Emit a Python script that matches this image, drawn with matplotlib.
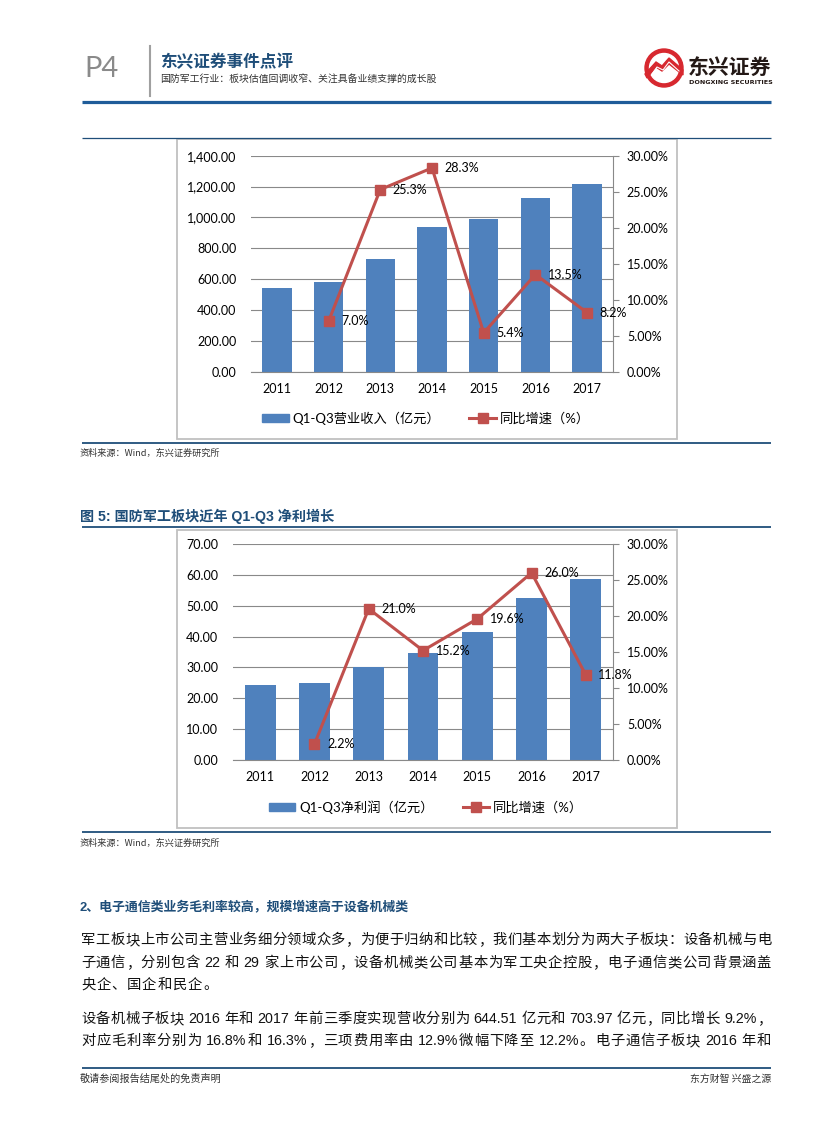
import re
import numpy as np
import matplotlib
matplotlib.use("Agg")
import matplotlib.pyplot as plt
from matplotlib.patches import Rectangle, Circle, Polygon, Patch
from matplotlib.lines import Line2D
from matplotlib.ticker import FuncFormatter, MultipleLocator
from matplotlib.font_manager import FontProperties

W, H = 827, 1122

# ---- data ----
years = ['2011', '2012', '2013', '2014', '2015', '2016', '2017']
revenue = [544, 583, 730, 938, 990, 1124, 1216]          # Q1-Q3营业收入（亿元）
revenue_yoy = [None, 7.0, 25.3, 28.3, 5.4, 13.5, 8.2]    # 同比增速（%）
profit = [24.3, 24.8, 30.1, 34.7, 41.5, 52.4, 58.6]      # Q1-Q3净利润（亿元）
profit_yoy = [None, 2.2, 21.0, 15.2, 19.6, 26.0, 11.8]   # 同比增速（%）

BLUE = '#4F81BD'
RED = '#C0504D'
NAVY = '#1F4E79'
GRID = '#898989'
CJK = ['Noto Sans CJK SC', 'DejaVu Sans']
NUM = ['Lato', 'Noto Sans CJK SC']
BODY = ['Liberation Sans', 'Noto Sans CJK SC']

fig = plt.figure(figsize=(W / 100, H / 100), dpi=100)
bg = fig.add_axes([0, 0, 1, 1])
bg.set_xlim(0, W)
bg.set_ylim(H, 0)
bg.axis('off')


def T(x, y, s, **kw):
    return fig.text(x / W, 1 - y / H, s, **kw)


def rect(x0, y0, x1, y1):
    return [x0 / W, 1 - y1 / H, (x1 - x0) / W, (y1 - y0) / H]


def hline(y, lw=1.0, color=NAVY, x0=82, x1=771):
    bg.plot([x0, x1], [y, y], color=color, lw=lw, solid_capstyle='butt')


# ---- page header ----
T(84, 69, 'P4', fontsize=21, color='#8a8a8a', family='Lato', va='center')
bg.plot([150, 150], [46, 96], color='#a0a0a0', lw=1.5)
T(160, 62, '东兴证券事件点评', fontsize=12, color=NAVY, family=CJK, fontweight='bold', va='center')
T(160, 79, '国防军工行业：板块估值回调收窄、关注具备业绩支撑的成长股', fontsize=7.1,
  color='#333333', family=CJK, va='center')

# logo
bg.add_patch(Circle((664, 68), 19, color='#d7282f'))
bg.add_patch(Circle((664, 68), 14.5, color='white'))
bg.add_patch(Polygon([(645, 74), (656, 62), (662, 66), (669, 58), (683, 70), (683, 75),
                      (669, 64), (662, 71), (656, 67), (647, 78)], closed=True, color='#d7282f'))
bg.plot([652, 657, 663, 669, 679], [74, 67, 70, 62, 71], color='white', lw=0.8)
T(688, 67, '东兴证券', fontsize=15, color='#231815', family=CJK, fontweight='bold', va='center')
T(689, 83, 'DONGXING SECURITIES', fontsize=4.6, color='#231815', family='DejaVu Sans',
  fontweight='bold', va='center')

hline(101.5, lw=2.3, color='#1F5C99')
hline(138, lw=0.9)


def draw_chart(box, plot, bars, yoy, ymax, ystep, fmt, bar_name, leg_y):
    bg.add_patch(Rectangle((box[0], box[1]), box[2] - box[0], box[3] - box[1],
                           fill=False, ec='#c0c0c0', lw=1.3))
    ax = fig.add_axes(rect(*plot))
    x = np.arange(len(years))
    ax.bar(x, bars, width=0.57, color=BLUE, zorder=3)
    ax.set_xlim(-0.5, len(years) - 0.5)
    ax.set_ylim(0, ymax)
    ax.yaxis.set_major_locator(MultipleLocator(ystep))
    ax.yaxis.set_major_formatter(FuncFormatter(fmt))
    ax.grid(axis='y', color=GRID, lw=0.8, zorder=0)
    ax.set_facecolor('none')
    for s in ['top', 'left', 'right']:
        ax.spines[s].set_visible(False)
    ax.spines['bottom'].set_color(GRID)
    ax.spines['bottom'].set_zorder(4)
    ax.set_xticks(x, years)
    ax.tick_params(axis='y', length=0, pad=10.5, labelsize=9)
    ax.tick_params(axis='x', length=0, pad=8, labelsize=9)
    for lab in ax.get_xticklabels() + ax.get_yticklabels():
        lab.set_family(NUM)

    ax2 = ax.twinx()
    ax2.set_ylim(0, 30)
    ax2.yaxis.set_major_locator(MultipleLocator(5))
    ax2.yaxis.set_major_formatter(FuncFormatter(lambda v, p: f'{v:.2f}%'))
    for s in ['top', 'left', 'bottom']:
        ax2.spines[s].set_visible(False)
    ax2.spines['right'].set_color(GRID)
    ax2.tick_params(axis='y', length=4, color=GRID, pad=6, labelsize=9)
    for lab in ax2.get_yticklabels():
        lab.set_family(NUM)
    xs = [i for i, v in enumerate(yoy) if v is not None]
    ys = [v for v in yoy if v is not None]
    ax2.plot(xs, ys, color=RED, lw=2.2, marker='s', ms=6.5, zorder=5)
    for xi, v in zip(xs, ys):
        ax2.annotate(f'{v:.1f}%', (xi, v), xytext=(9, 0), textcoords='offset points',
                     va='center', ha='left', fontsize=9, family=NUM)

    handles = [Patch(color=BLUE), Line2D([], [], color=RED, lw=2.2, marker='s', ms=6.5)]
    fig.legend(handles, [bar_name, '同比增速（%）'], loc='center',
               bbox_to_anchor=(426 / W, 1 - leg_y / H), ncol=2, frameon=False,
               prop=FontProperties(family=NUM, size=9.5), handlelength=2.0,
               handleheight=0.6, columnspacing=2.2, handletextpad=0.3)


draw_chart((177, 139, 677, 439), (251, 155.7, 613, 371.7), revenue, revenue_yoy,
           1400, 200, lambda v, p: f'{v:,.2f}', 'Q1-Q3营业收入（亿元）', 418)
hline(442.5, lw=1.3)
T(80, 453, '资料来源：Wind，东兴证券研究所', fontsize=6.6, color='#333333', family=CJK,
  style='italic', va='center')

T(80, 516, '图 5: 国防军工板块近年 Q1-Q3 净利增长', fontsize=10.2, color=NAVY, family=BODY,
  fontweight='bold', va='center')
hline(527, lw=1.3)
draw_chart((177, 530, 677, 828), (233, 544, 613, 760), profit, profit_yoy,
           70, 10, lambda v, p: f'{v:.2f}', 'Q1-Q3净利润（亿元）', 807)
hline(832, lw=1.3)
T(80, 843, '资料来源：Wind，东兴证券研究所', fontsize=6.6, color='#333333', family=CJK,
  style='italic', va='center')

# ---- body text ----
T(80, 907, '2、电子通信类业务毛利率较高，规模增速高于设备机械类', fontsize=9.3, color=NAVY,
  family=BODY, fontweight='bold', va='center')

renderer = fig.canvas.get_renderer()


def justify(line, y, fill=True, x0=81, x1=771, size=10.3):
    tokens = re.findall(r'[0-9A-Za-z.%]+| |.', line)
    objs, widths = [], []
    for tok in tokens:
        if tok == ' ':
            objs.append(None)
            widths.append(size * 0.22 * 100 / 72)
            continue
        t = T(0, y, tok, fontsize=size, family=BODY, va='center', ha='left', color='#111111')
        widths.append(t.get_window_extent(renderer).width)
        objs.append(t)
    gap = (x1 - x0 - sum(widths)) / (len(tokens) - 1) if fill else 1.0
    x = x0
    for t, w in zip(objs, widths):
        if t is not None:
            t.set_x(x / W)
        x += w + gap


body = [
    ('军工板块上市公司主营业务细分领域众多，为便于归纳和比较，我们基本划分为两大子板块：设备机械与电', 940, True),
    ('子通信，分别包含 22 和 29 家上市公司，设备机械类公司基本为军工央企控股，电子通信类公司背景涵盖', 963, True),
    ('央企、国企和民企。', 985, False),
    ('设备机械子板块 2016 年和 2017 年前三季度实现营收分别为 644.51 亿元和 703.97 亿元，同比增长 9.2%，', 1019, True),
    ('对应毛利率分别为 16.8%和 16.3%，三项费用率由 12.9%微幅下降至 12.2%。电子通信子板块 2016 年和', 1041, True),
]
for line, y, fill in body:
    justify(line, y, fill)

# ---- footer ----
hline(1068, lw=1.3)
T(80, 1079, '敬请参阅报告结尾处的免责声明', fontsize=7.3, color='#333333', family=CJK, va='center')
T(771, 1079, '东方财智 兴盛之源', fontsize=7.1, color='#333333', family=CJK, va='center', ha='right')

fig.savefig('out.png', dpi=100)
